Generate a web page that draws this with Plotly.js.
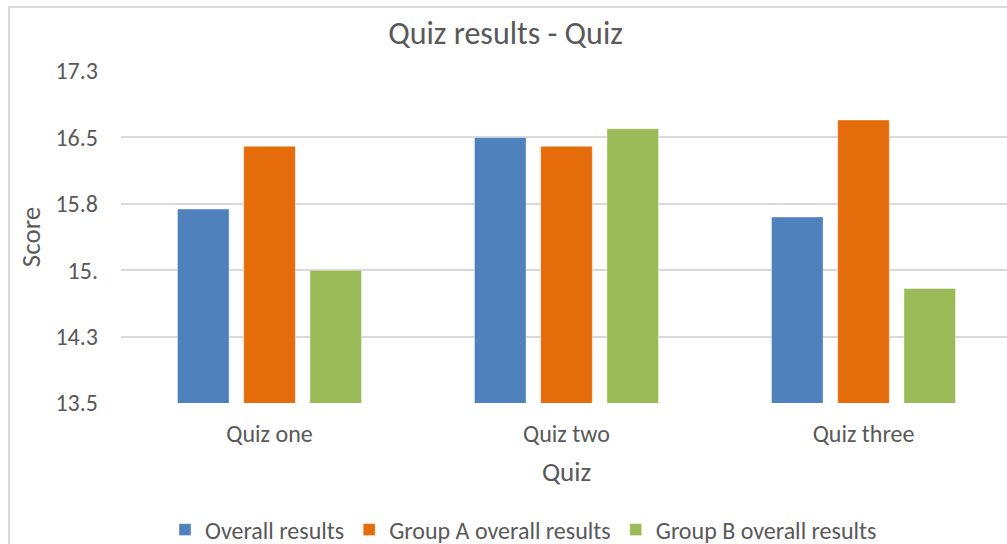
<!DOCTYPE html>
<html>
<head>
<meta charset="utf-8">
<script src="https://cdn.plot.ly/plotly-3.0.1.min.js"></script>
<style>
  html, body { margin: 0; padding: 0; background: #ffffff; overflow: hidden; }
  #frame {
    position: absolute; left: 8px; top: 6px; width: 1100px; height: 620px;
    border: 2px solid #d9d9d9; box-sizing: border-box;
  }
  #chart { position: absolute; left: 0; top: 0; width: 1013px; height: 544px; }
</style>
</head>
<body>
<div id="frame"></div>
<div id="chart"></div>
<script>
// Quiz categories and the three result series
const quizzes = ["Quiz one", "Quiz two", "Quiz three"];
const overallResults = [15.72, 16.54, 15.63];
const groupAResults = [16.44, 16.44, 16.74];
const groupBResults = [15.02, 16.64, 14.81];

// Score axis ticks (Excel-style labels)
const scoreTickVals = [13.5, 14.26, 15.02, 15.78, 16.54, 17.3];
const scoreTickText = ["13.5", "14.3", "15.", "15.8", "16.5", "17.3"];

const seriesNames = ["Overall results", "Group A overall results", "Group B overall results"];
const seriesColors = ["#4f81bd", "#e46c0a", "#9bbb59"];
const seriesValues = [overallResults, groupAResults, groupBResults];

const FONT = "Carlito, Lato, 'Open Sans', sans-serif";
const TEXT = "#595959";

const traces = seriesValues.map((vals, i) => ({
  type: "bar",
  name: seriesNames[i],
  x: quizzes,
  y: vals,
  base: 0,
  marker: { color: seriesColors[i], line: { color: "rgba(255,255,255,0.45)", width: 1 } },
  hoverinfo: "x+y+name"
}));

const layout = {
  width: 1013,
  height: 544,
  margin: { l: 121, r: 1, t: 71, b: 141 },
  paper_bgcolor: "rgba(0,0,0,0)",
  plot_bgcolor: "rgba(0,0,0,0)",
  font: { family: FONT, color: TEXT, size: 24 },
  title: {
    text: "Quiz results - Quiz",
    font: { family: FONT, color: TEXT, size: 32 },
    x: 505.5 / 1013, xref: "container", xanchor: "center",
    y: 1 - 33 / 544, yref: "container", yanchor: "middle"
  },
  barmode: "group",
  bargap: 0.331,
  bargroupgap: 0.22,
  xaxis: {
    type: "category",
    showgrid: false,
    showline: false,
    zeroline: false,
    ticks: "",
    ticklabelstandoff: 14,
    tickfont: { family: FONT, color: TEXT, size: 24 },
    title: { text: "Quiz", font: { family: FONT, color: TEXT, size: 27 }, standoff: 15 },
    automargin: false
  },
  yaxis: {
    range: [13.5, 17.3],
    tickmode: "array",
    tickvals: scoreTickVals,
    ticktext: scoreTickText,
    showgrid: true,
    gridcolor: "#d9d9d9",
    gridwidth: 2,
    zeroline: false,
    showline: false,
    ticks: "",
    ticklabelstandoff: 22,
    tickfont: { family: FONT, color: TEXT, size: 24 },
    title: { text: "Score", font: { family: FONT, color: TEXT, size: 27 }, standoff: 6 },
    automargin: false
  },
  showlegend: true,
  legend: {
    orientation: "h",
    xref: "container", x: 523.5 / 1013, xanchor: "center",
    yref: "container", y: 1 - 530 / 544, yanchor: "middle",
    font: { family: FONT, color: TEXT, size: 24 },
    itemwidth: 30,
    traceorder: "normal",
    bgcolor: "rgba(0,0,0,0)"
  }
};

Plotly.newPlot("chart", traces, layout, { displayModeBar: false, staticPlot: true });
</script>
</body>
</html>
